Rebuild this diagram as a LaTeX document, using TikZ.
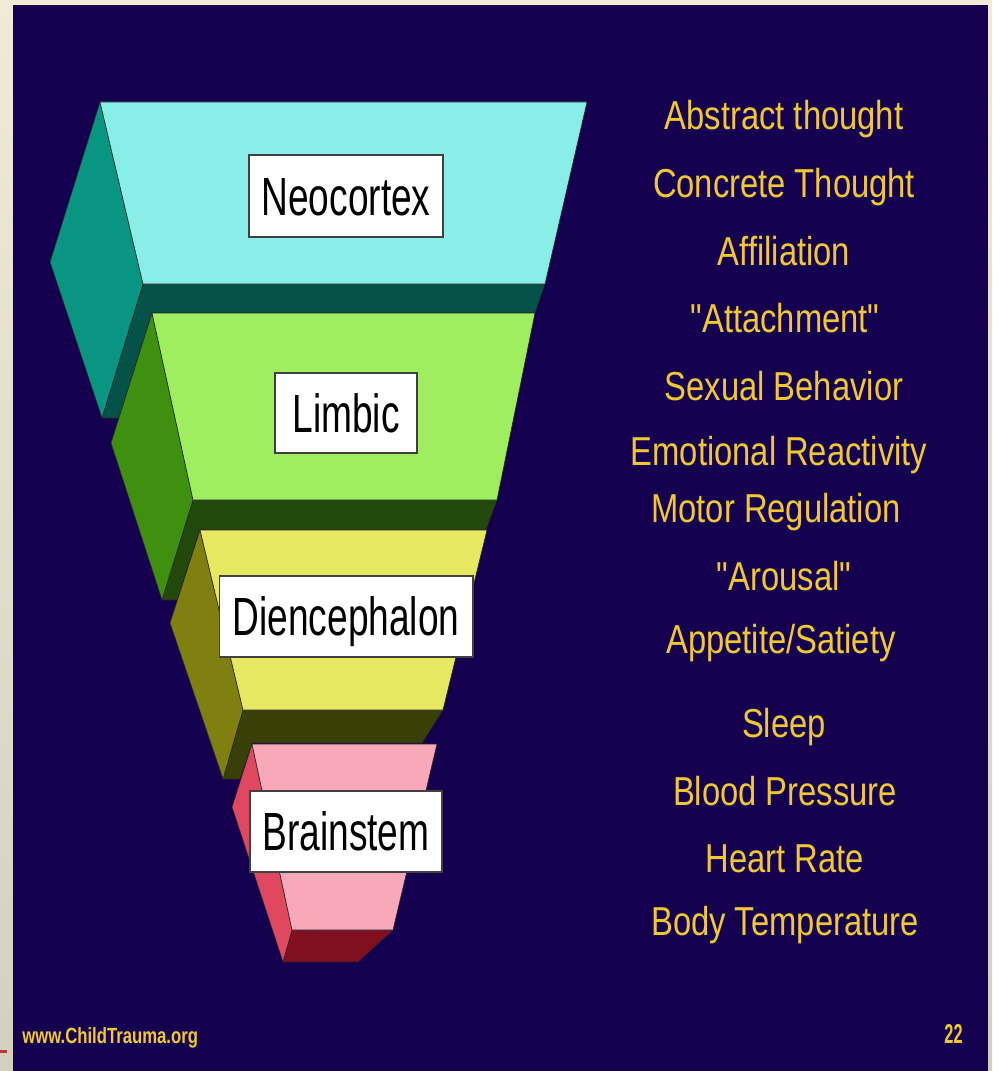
\documentclass[tikz,border=0pt]{standalone}
\usepackage{fontspec}
\setmainfont{Liberation Sans}
\newfontfamily\listfont[FakeStretch=0.81]{Liberation Sans}
\newfontfamily\boxfont[FakeStretch=0.69]{Liberation Sans}
\newfontfamily\footfont[FakeStretch=0.76]{Liberation Sans}
\newfontfamily\pagefont[FakeStretch=0.6]{Liberation Sans}

% slide colours
\definecolor{paperTop}{RGB}{240,234,214}
\definecolor{paperBot}{RGB}{212,208,192}
\definecolor{slide}{RGB}{20,0,78}
\definecolor{gold}{RGB}{240,200,50}
% Neocortex
\definecolor{neoFront}{RGB}{138,238,232}
\definecolor{neoSide}{RGB}{8,150,130}
\definecolor{neoDark}{RGB}{4,82,72}
% Limbic
\definecolor{limFront}{RGB}{158,238,96}
\definecolor{limSide}{RGB}{64,144,16}
\definecolor{limDark}{RGB}{34,72,12}
% Diencephalon
\definecolor{dieFront}{RGB}{230,232,98}
\definecolor{dieSide}{RGB}{128,128,16}
\definecolor{dieDark}{RGB}{56,64,8}
% Brainstem
\definecolor{bstFront}{RGB}{248,168,184}
\definecolor{bstSide}{RGB}{224,72,96}
\definecolor{bstDark}{RGB}{128,16,32}

\begin{document}
\begin{tikzpicture}[x=0.02cm, y=-0.02cm,
  face/.style={draw=black!85, line width=0.35pt, line join=round},
  labelbox/.style={draw=black!75, line width=0.6pt, fill=white, inner sep=0pt,
    text=black, font=\boxfont\fontsize{30.6pt}{34pt}\selectfont,
    text height=21.9pt, text depth=0pt, align=center},
  item/.style={anchor=base, text=gold, inner sep=0pt,
    font=\listfont\fontsize{23pt}{26pt}\selectfont}]

\useasboundingbox (0,0) rectangle (992,1071);

% page and slide background
\fill[top color=paperTop, bottom color=paperBot] (0,0) rectangle (992,1071);
\fill[slide] (13,5) rectangle (988,1071);
\fill[red!70!black!80] (0,1050) rectangle (7,1052.5);

% ---- Neocortex block ----
\draw[face, fill=neoDark] (143,284) -- (545,284) -- (535,313) -- (152,313) -- (119,418) -- (102,418) -- cycle;
\draw[face, fill=neoSide] (100,102) -- (50,262) -- (102,418) -- (143,284) -- cycle;
\draw[face, fill=neoFront] (100,102) -- (587,102) -- (545,284) -- (143,284) -- cycle;

% ---- Limbic block ----
\draw[face, fill=limDark] (193,500) -- (497,500) -- (486,530) -- (200,530) -- (177,600) -- (162,600) -- cycle;
\draw[face, fill=limSide] (152,313) -- (111,443) -- (162,600) -- (193,500) -- cycle;
\draw[face, fill=limFront] (152,313) -- (535,313) -- (497,500) -- (193,500) -- cycle;

% ---- Diencephalon block ----
\draw[face, fill=dieDark] (243,710) -- (443,710) -- (422,743) -- (252,743) -- (240,779) -- (223,779) -- cycle;
\draw[face, fill=dieSide] (200,530) -- (170,623) -- (223,779) -- (243,710) -- cycle;
\draw[face, fill=dieFront] (200,530) -- (487,530) -- (443,710) -- (243,710) -- cycle;

% ---- Brainstem block ----
\draw[face, fill=bstDark] (292,930) -- (393,930) -- (358,962) -- (283,962) -- cycle;
\draw[face, fill=bstSide] (252,744) -- (232,807) -- (283,962) -- (292,930) -- cycle;
\draw[face, fill=bstFront] (252,744) -- (437,744) -- (393,930) -- (292,930) -- cycle;

% block labels
\node[labelbox, minimum width=3.88cm, minimum height=1.64cm] (neo) at (346,196) {Neocortex};
\node[labelbox, minimum width=2.84cm, minimum height=1.60cm] (lim) at (346,413) {Limbic};
\node[labelbox, minimum width=5.08cm, minimum height=1.62cm] (die) at (346,616.5) {Diencephalon};
\node[labelbox, minimum width=3.84cm, minimum height=1.62cm] (bst) at (346,831.5) {Brainstem};

% functions list
\node[item] (f1)  at (784,130) {Abstract thought};
\node[item] (f2)  at (784,197) {Concrete Thought};
\node[item] (f3)  at (784,265) {Affiliation};
\node[item] (f4)  at (785,332) {"Attachment"};
\node[item] (f5)  at (784,400) {Sexual Behavior};
\node[item] (f6)  at (779,465) {Emotional Reactivity};
\node[item] (f7)  at (776,522) {Motor Regulation};
\node[item] (f8)  at (784,590) {"Arousal"};
\node[item] (f9)  at (781,653) {Appetite/Satiety};
\node[item] (f10) at (784,737) {Sleep};
\node[item] (f11) at (785,805) {Blood Pressure};
\node[item] (f12) at (785,872) {Heart Rate};
\node[item] (f13) at (785,935) {Body Temperature};

% footer
\node[anchor=base west, inner sep=0pt, text=gold,
  font=\footfont\bfseries\fontsize{12.5pt}{14pt}\selectfont] (site) at (22,1043) {www.ChildTrauma.org};
\node[anchor=base east, inner sep=0pt, text=gold,
  font=\pagefont\bfseries\fontsize{15.5pt}{17pt}\selectfont] (page) at (963,1043) {22};

\end{tikzpicture}
\end{document}
